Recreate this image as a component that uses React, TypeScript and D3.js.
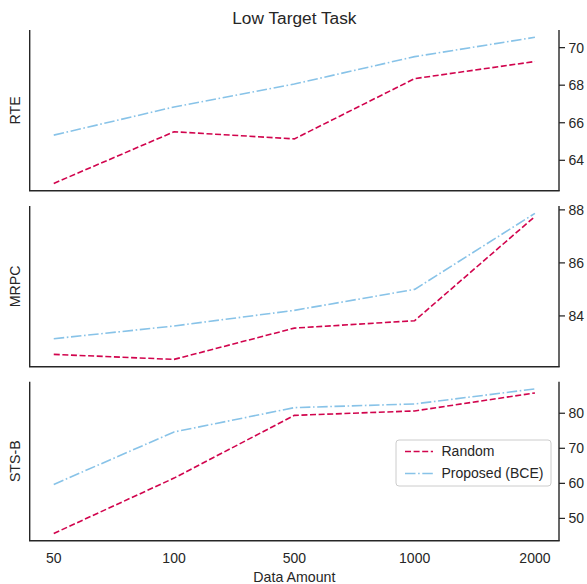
import React from "react";
import * as d3 from "d3";

const categories = ["50", "100", "500", "1000", "2000"];
const tasks = ["RTE", "MRPC", "STS-B"];
const randomRTE = [62.77, 65.52, 65.14, 68.35, 69.26];
const proposedRTE = [65.34, 66.84, 68.06, 69.52, 70.55];
const randomMRPC = [82.55, 82.36, 83.54, 83.82, 87.75];
const proposedMRPC = [83.14, 83.62, 84.21, 85.0, 87.87];
const randomSTSB = [45.7, 61.5, 79.4, 80.66, 85.8];
const proposedSTSB = [59.7, 74.66, 81.6, 82.66, 86.94];
const ticksRTE = [64, 66, 68, 70];
const ticksMRPC = [84, 86, 88];
const ticksSTSB = [50, 60, 70, 80];
const seriesNames = ["Random", "Proposed (BCE)"];

const W = 587;
const H = 584;
const left = 29.7;
const right = 559;
const panels = [
  { top: 30, bottom: 190.7, random: randomRTE, proposed: proposedRTE, ticks: ticksRTE },
  { top: 206, bottom: 366.7, random: randomMRPC, proposed: proposedMRPC, ticks: ticksMRPC },
  { top: 381.7, bottom: 540.7, random: randomSTSB, proposed: proposedSTSB, ticks: ticksSTSB },
];

const RED = "#d1044d";
const BLUE = "#88c3e8";
const SPINE = "#262626";
const FONT = "'Liberation Sans', Arial, sans-serif";

export default function App() {
  const x = d3.scaleLinear().domain([-0.2, 4.2]).range([left, right]);
  const line = (ys: d3.ScaleLinear<number, number>) =>
    d3
      .line<number>()
      .x((_, i) => x(i))
      .y((v) => ys(v));

  return (
    <svg width={W} height={H} style={{ position: "absolute", left: 0, top: 0 }} fontFamily={FONT}>
      <rect width={W} height={H} fill="#fff" />
      <text x={(left + right) / 2} y={24} textAnchor="middle" fontSize={17.3} fill={SPINE}>
        Low Target Task
      </text>
      {panels.map((p, k) => {
        const all = [...p.random, ...p.proposed];
        const mn = d3.min(all)!;
        const mx = d3.max(all)!;
        const pad = (mx - mn) * 0.05;
        const y = d3.scaleLinear().domain([mn - pad, mx + pad]).range([p.bottom, p.top]);
        const l = line(y);
        return (
          <g key={k}>
            <path d={l(p.random)!} fill="none" stroke={RED} strokeWidth={1.6} strokeDasharray="6,2.6" />
            <path d={l(p.proposed)!} fill="none" stroke={BLUE} strokeWidth={1.6} strokeDasharray="10.5,2.6,1.6,2.6" />
            <line x1={left} x2={left} y1={p.top} y2={p.bottom} stroke={SPINE} strokeWidth={1.4} />
            <line x1={right} x2={right} y1={p.top} y2={p.bottom} stroke={SPINE} strokeWidth={1.4} />
            <line x1={left - 0.7} x2={right + 0.7} y1={p.bottom} y2={p.bottom} stroke={SPINE} strokeWidth={1.4} />
            {p.ticks.map((t) => (
              <g key={t} transform={`translate(${right},${y(t)})`}>
                <line x1={0} x2={6} stroke={SPINE} strokeWidth={1.25} />
                <text x={9.5} dy="0.35em" fontSize={14} fill={SPINE}>
                  {t}
                </text>
              </g>
            ))}
            <text
              transform={`translate(${20},${(p.top + p.bottom) / 2}) rotate(-90)`}
              textAnchor="middle"
              fontSize={14.2}
              fill={SPINE}
            >
              {tasks[k]}
            </text>
          </g>
        );
      })}
      {categories.map((c, i) => (
        <text key={c} x={x(i)} y={563} textAnchor="middle" fontSize={14} fill={SPINE}>
          {c}
        </text>
      ))}
      <text x={(left + right) / 2} y={581.5} textAnchor="middle" fontSize={14.2} fill={SPINE}>
        Data Amount
      </text>
      <g>
        <rect x={396} y={440} width={155} height={46} rx={3} fill="#fff" fillOpacity={0.8} stroke="#cccccc" strokeWidth={1} />
        <line x1={405} x2={433} y1={451.5} y2={451.5} stroke={RED} strokeWidth={1.6} strokeDasharray="6,2.6" />
        <line x1={405} x2={433} y1={473.5} y2={473.5} stroke={BLUE} strokeWidth={1.6} strokeDasharray="10.5,2.6,1.6,2.6" />
        <text x={441.5} y={451.5} dy="0.35em" fontSize={14} fill={SPINE}>
          {seriesNames[0]}
        </text>
        <text x={441.5} y={473.5} dy="0.35em" fontSize={14} fill={SPINE}>
          {seriesNames[1]}
        </text>
      </g>
    </svg>
  );
}
